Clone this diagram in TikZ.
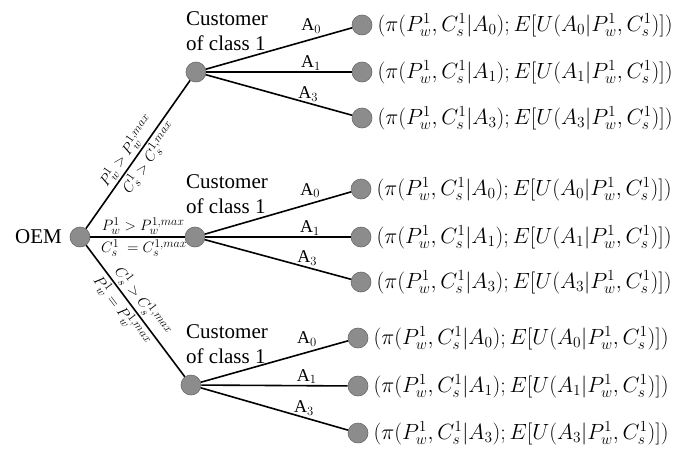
\RequirePackage{fix-cm}
\documentclass[tikz,border=0pt]{standalone}
\usepackage{fontspec}
\setmainfont{Liberation Serif}
\DeclareMathSizes{15}{15}{12}{10}
\definecolor{dotgray}{RGB}{140,140,140}
\definecolor{dotedge}{RGB}{105,105,105}
\begin{document}
\begin{tikzpicture}[x=1pt,y=-1pt,
  dot/.style={circle, minimum size=20pt, inner sep=0pt, fill=dotgray, draw=dotedge, line width=0.6pt},
  edge/.style={line width=1.6pt, black},
  cust/.style={align=left, anchor=west, inner sep=0pt, font=\fontsize{21}{25}\selectfont},
  act/.style={font=\fontsize{18}{20}\selectfont, inner sep=1pt},
  pay/.style={anchor=west, inner sep=0pt, xshift=5pt, font=\fontsize{22}{25}\selectfont},
  cond/.style={font=\fontsize{15}{17}\selectfont, sloped, inner sep=2pt}
]
\useasboundingbox (0,0) rectangle (690,450);

% nodes
\node[font=\fontsize{21}{25}\selectfont, anchor=east, inner sep=0pt] (oemlab) at (62,237) {OEM};
\node[dot] (oem) at (80,237) {};

\node[dot] (cu1) at (196,72) {};
\node[dot] (cu2) at (195,237) {};
\node[dot] (cu3) at (191,385) {};

\node[cust] (lab1) at (186,31) {Customer\\of class 1};
\node[cust] (lab2) at (186,194) {Customer\\of class 1};
\node[cust] (lab3) at (186,344) {Customer\\of class 1};

\node[dot] (l10) at (362,25) {};
\node[dot] (l11) at (362,72) {};
\node[dot] (l13) at (362,118) {};
\node[dot] (l20) at (361,189) {};
\node[dot] (l21) at (361,237) {};
\node[dot] (l23) at (361,282) {};
\node[dot] (l30) at (358,338) {};
\node[dot] (l31) at (358,386) {};
\node[dot] (l33) at (358,433) {};

% payoffs
\node[pay] (p10) at (l10.east) {$(\pi(P_w^1, C_s^1|A_0); E[U(A_0|P_w^1, C_s^1)])$};
\node[pay] (p11) at (l11.east) {$(\pi(P_w^1, C_s^1|A_1); E[U(A_1|P_w^1, C_s^1)])$};
\node[pay] (p13) at (l13.east) {$(\pi(P_w^1, C_s^1|A_3); E[U(A_3|P_w^1, C_s^1)])$};
\node[pay] (p20) at (l20.east) {$(\pi(P_w^1, C_s^1|A_0); E[U(A_0|P_w^1, C_s^1)])$};
\node[pay] (p21) at (l21.east) {$(\pi(P_w^1, C_s^1|A_1); E[U(A_1|P_w^1, C_s^1)])$};
\node[pay] (p23) at (l23.east) {$(\pi(P_w^1, C_s^1|A_3); E[U(A_3|P_w^1, C_s^1)])$};
\node[pay] (p30) at (l30.east) {$(\pi(P_w^1, C_s^1|A_0); E[U(A_0|P_w^1, C_s^1)])$};
\node[pay] (p31) at (l31.east) {$(\pi(P_w^1, C_s^1|A_1); E[U(A_1|P_w^1, C_s^1)])$};
\node[pay] (p33) at (l33.east) {$(\pi(P_w^1, C_s^1|A_3); E[U(A_3|P_w^1, C_s^1)])$};

% OEM edges
\draw[edge] (oem) -- node[cond, above, pos=0.48] (e1a) {$P_w^1 > P_w^{1,max}$}
                      node[cond, below, pos=0.52] (e1b) {$C_s^1 > C_s^{1,max}$} (cu1);
\draw[edge] (oem) -- node[cond, above, pos=0.56] (e2a) {$P_w^1 > P_w^{1,max}$}
                      node[cond, below, pos=0.57] (e2b) {$C_s^1\ = C_s^{1,max}$} (cu2);
\draw[edge] (oem) -- node[cond, above, pos=0.48] (e3a) {$C_s^1 > C_s^{1,max}$}
                      node[cond, below, pos=0.45] (e3b) {$P_w^1 = P_w^{1,max}$} (cu3);

% customer edges
\draw[edge] (cu1) -- node[act, above=4pt, pos=0.72] (a10) {A$_0$} (l10);
\draw[edge] (cu1) -- node[act, above, pos=0.72] (a11) {A$_1$} (l11);
\draw[edge] (cu1) -- node[act, above, pos=0.70] (a13) {A$_3$} (l13);
\draw[edge] (cu2) -- node[act, above=4pt, pos=0.72] (a20) {A$_0$} (l20);
\draw[edge] (cu2) -- node[act, above, pos=0.72] (a21) {A$_1$} (l21);
\draw[edge] (cu2) -- node[act, above, pos=0.70] (a23) {A$_3$} (l23);
\draw[edge] (cu3) -- node[act, above=4pt, pos=0.72] (a30) {A$_0$} (l30);
\draw[edge] (cu3) -- node[act, above, pos=0.72] (a31) {A$_1$} (l31);
\draw[edge] (cu3) -- node[act, above, pos=0.70] (a33) {A$_3$} (l33);
\end{tikzpicture}
\end{document}
